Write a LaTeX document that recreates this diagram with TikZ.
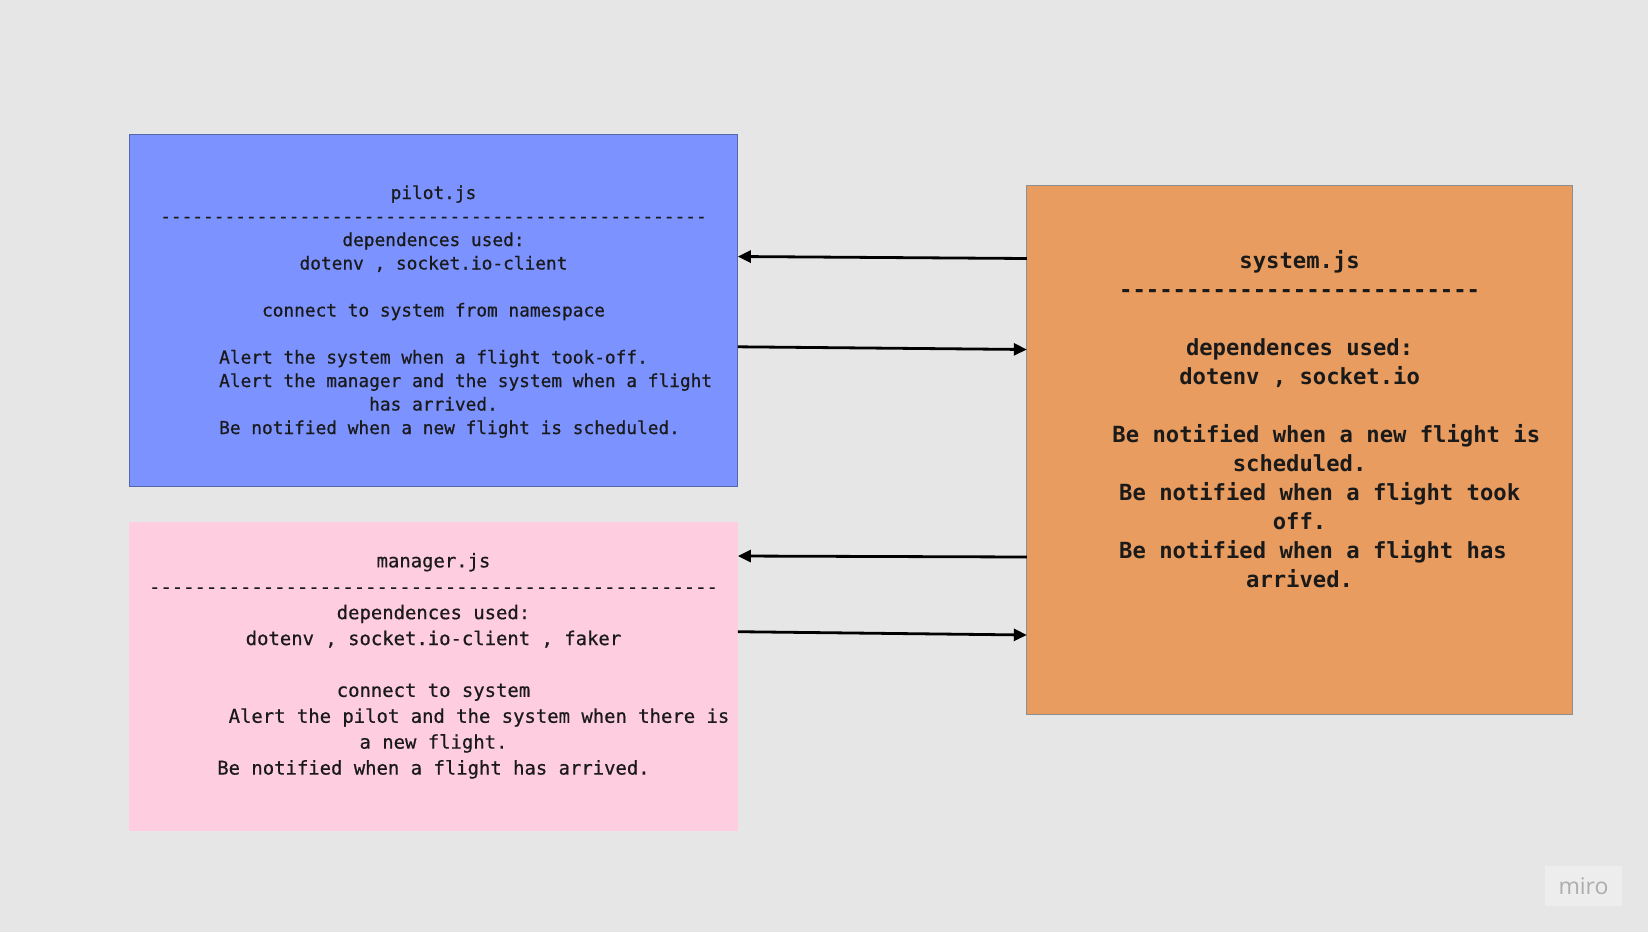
\documentclass[tikz,border=0pt]{standalone}
\usepackage{fontspec}
\setmonofont{DejaVu Sans Mono}
\newfontfamily\mirofont{Open Sans}
\usetikzlibrary{arrows.meta}
\definecolor{bg}{HTML}{E6E6E6}
\definecolor{pilotfill}{HTML}{7B92FF}
\definecolor{pilotedge}{HTML}{5566AA}
\definecolor{sysfill}{HTML}{E89C5F}
\definecolor{sysedge}{HTML}{8E8E8E}
\definecolor{manfill}{HTML}{FFCDE0}
\definecolor{inkc}{HTML}{1A1A1A}
\definecolor{mirobox}{HTML}{EDEDED}
\definecolor{mirotext}{HTML}{ADADAD}
\tikzset{
  box/.style={anchor=north west, inner sep=0pt, outer sep=0pt},
  txt/.style={align=center, inner sep=0pt, text=inkc, font=\ttfamily},
  arr/.style={line width=2.8pt, draw=black, -{Triangle[length=13pt,width=12pt]}},
}
\begin{document}
\begin{tikzpicture}[x=1pt,y=-1pt]
\fill[bg] (0,0) rectangle (1648,932);
\useasboundingbox (0,0) rectangle (1648,932);

\node[box, fill=pilotfill, draw=pilotedge, line width=1pt, minimum width=608.5pt, minimum height=352pt] (pilotbox) at (129.3,134.5) {};
\node[box, fill=manfill, minimum width=608.5pt, minimum height=309pt] (manbox) at (129.3,522.3) {};
\node[box, fill=sysfill, draw=sysedge, line width=1pt, minimum width=545.5pt, minimum height=529.7pt] (sysbox) at (1026.8,185) {};

\node[txt, font=\ttfamily\addfontfeatures{FakeBold=0.6}\fontsize{17.8}{23.5}\selectfont] (pilottxt) at (433.5,311.6) {pilot.js\\
---------------------------------------------------\\
dependences used:\\
dotenv , socket.io-client\\
\\
connect to system from namespace\\
\\
Alert the system when a flight took-off.\\
\hphantom{xxxxxx}Alert the manager and the system when a flight\\
has arrived.\\
\hphantom{xxx}Be notified when a new flight is scheduled.};

\node[txt, font=\ttfamily\addfontfeatures{FakeBold=0.6}\fontsize{18.9}{25.9}\selectfont] (mantxt) at (433.5,665.8) {manager.js\\
--------------------------------------------------\\
dependences used:\\
dotenv , socket.io-client , faker\\
\\
connect to system\\
\hphantom{xxxxxxxx}Alert the pilot and the system when there is\\
a new flight.\\
Be notified when a flight has arrived.};

\node[txt, font=\ttfamily\bfseries\fontsize{22.2}{29}\selectfont] (systxt) at (1299.6,419.4) {system.js\\
---------------------------\\
\\
dependences used:\\
dotenv , socket.io\\
\\
\hphantom{xxxx}Be notified when a new flight is\\
scheduled.\\
\hphantom{xxx}Be notified when a flight took\\
off.\\
\hphantom{xx}Be notified when a flight has\\
arrived.};

\draw[arr] (sysbox.west |- 0,258.5) -- (pilotbox.east |- 0,256.5);
\draw[arr] (pilotbox.east |- 0,346.8) -- (sysbox.west |- 0,349.5);
\draw[arr] (sysbox.west |- 0,557) -- (manbox.east |- 0,556);
\draw[arr] (manbox.east |- 0,631.7) -- (sysbox.west |- 0,635);

\node[fill=mirobox, minimum width=77pt, minimum height=40pt, inner sep=0pt, text=mirotext, font=\mirofont\fontsize{23}{23}\selectfont] (miro) at (1583.5,886) {miro};
\end{tikzpicture}
\end{document}
